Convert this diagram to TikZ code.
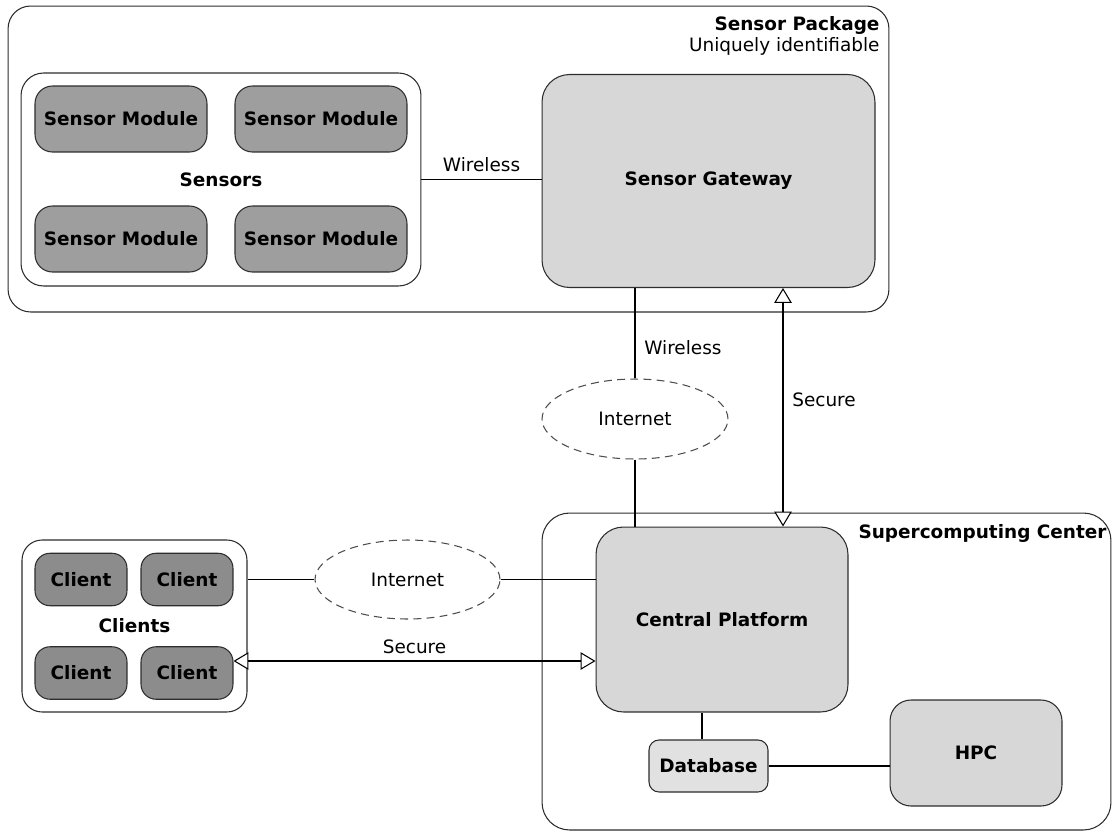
\documentclass[tikz,border=0pt]{standalone}
\usepackage{fontspec}
\setmainfont{DejaVu Sans}
\usetikzlibrary{arrows.meta,shapes.geometric}

\definecolor{modgray}{RGB}{158,158,158}
\definecolor{clientgray}{RGB}{140,140,140}
\definecolor{boxgray}{RGB}{215,215,215}
\definecolor{dbgray}{RGB}{225,225,225}
\definecolor{edgegray}{RGB}{45,45,45}

\tikzset{
  every node/.style={font=\fontsize{10.5}{12.6}\selectfont, inner sep=0pt},
  bold/.style={font=\fontsize{10.5}{12.6}\selectfont\bfseries},
  frame/.style={draw=edgegray, fill=white, rounded corners=#1},
  module/.style={draw=edgegray, fill=modgray, rounded corners=0.35cm, bold,
    minimum width=3.44cm, minimum height=1.32cm},
  client/.style={draw=edgegray, fill=clientgray, rounded corners=0.3cm, bold,
    minimum width=1.84cm, minimum height=1.05cm},
  cloud/.style={ellipse, draw=black!70, dash pattern=on 4.5pt off 3pt},
  secure/.style={{Triangle[width=10pt,length=8.5pt,fill=white]}-{Triangle[width=10pt,length=8.5pt,fill=white]}}
}

\begin{document}
\begin{tikzpicture}[x=0.02cm, y=-0.02cm, line width=0.6pt]
  \useasboundingbox (0,0) rectangle (1112,832);
  % sensor package
  \node[frame=0.45cm, minimum width=17.62cm, minimum height=6.12cm] (pkg) at (448.5,159) {};
  \node[bold, anchor=base east] (pkgname) at (880,30) {Sensor Package};
  \node[anchor=base east] (pkgnote) at (880,51) {Uniquely identifiable};
  \node[frame=0.45cm, bold, minimum width=8cm, minimum height=4.26cm] (sens) at (221,179.5) {Sensors};
  \node[module] (sm1) at (121,119) {Sensor Module};
  \node[module] (sm2) at (321,119) {Sensor Module};
  \node[module] (sm3) at (121,239) {Sensor Module};
  \node[module] (sm4) at (321,239) {Sensor Module};
  \node[frame=0.55cm, fill=boxgray, bold, minimum width=6.66cm, minimum height=4.26cm] (gw) at (708.5,181) {Sensor Gateway};
  \draw (sens.east) -- (sens.east -| gw.west) node[midway, above=4pt] {Wireless};

  % supercomputing center
  \node[frame=0.55cm, minimum width=11.38cm, minimum height=6.34cm] (sc) at (826.5,671.5) {};
  \node[bold, anchor=base east] (scname) at (1107,538) {Supercomputing Center};
  \node[frame=0.55cm, fill=boxgray, bold, minimum width=5.04cm, minimum height=3.7cm] (cp) at (722,619.5) {Central Platform};
  \node[frame=0.2cm, fill=dbgray, bold, minimum width=2.38cm, minimum height=1.04cm] (db) at (708.5,766) {Database};
  \node[frame=0.42cm, fill=boxgray, bold, minimum width=3.44cm, minimum height=2.12cm] (hpc) at (976,753) {HPC};
  \coordinate (dbx) at (702,0);
  \draw (db.north -| dbx) -- (cp.south -| dbx);
  \draw (db.east) -- (db.east -| hpc.west);

  % internet between gateway and platform
  \node[cloud, minimum width=3.72cm, minimum height=1.6cm] (inet1) at (635,419) {Internet};
  \draw (inet1.north |- gw.south) -- (inet1.north) node[pos=0.66, right=5pt] {Wireless};
  \draw (inet1.south) -- (inet1.south |- cp.north);
  \coordinate (sx) at (783,0);
  \draw[secure] (gw.south -| sx) -- (cp.north -| sx) node[pos=0.47, right=5pt] {Secure};

  % clients
  \node[frame=0.4cm, bold, minimum width=4.5cm, minimum height=3.44cm] (cl) at (134.5,626) {Clients};
  \node[client] (c1) at (81,579.5) {Client};
  \node[client] (c2) at (187,579.5) {Client};
  \node[client] (c3) at (81,673) {Client};
  \node[client] (c4) at (187,673) {Client};
  \node[cloud, minimum width=3.7cm, minimum height=1.58cm] (inet2) at (407.5,579.5) {Internet};
  \draw (c2.east -| cl.east) -- (inet2.west);
  \draw (inet2.east) -- (inet2.east -| cp.west);
  \coordinate (sy) at (0,661);
  \draw[secure] (c4.east |- sy) -- (cp.west |- sy) node[midway, above=4pt] {Secure};
\end{tikzpicture}
\end{document}
